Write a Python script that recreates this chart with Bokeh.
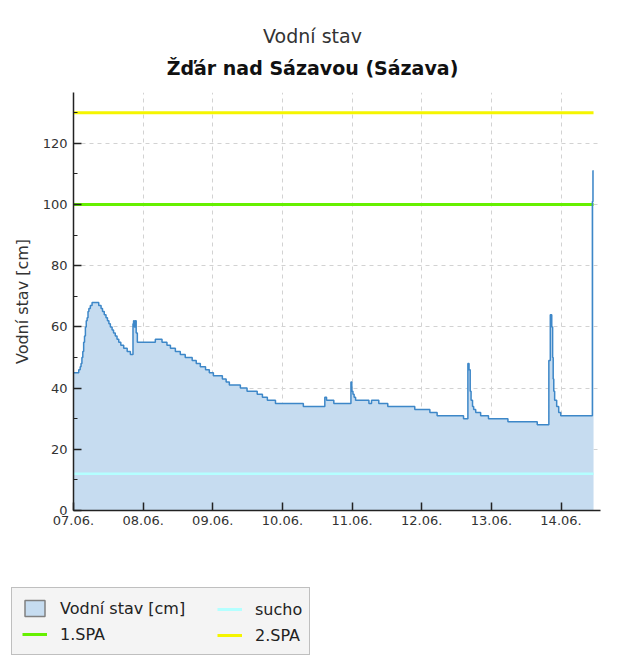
from bokeh.plotting import figure
from bokeh.layouts import column
from bokeh.models import Range1d, Label, Legend, LegendItem, FixedTicker, SingleIntervalTicker
from bokeh.embed import file_html
from bokeh.resources import INLINE

# ---- data (hours since 07.06. 00:00, water level in cm) ----
hours = [0, 1.8, 2.3, 2.6, 2.9, 3.2, 3.5, 3.8, 4.1, 4.4, 4.7, 5.0, 5.3, 5.8, 6.4,
         8.7, 9.5, 10.0, 10.6, 11.2, 11.7, 12.2, 12.7, 13.3, 13.8, 14.4, 15.0, 15.6,
         16.3, 17.3, 18.5, 19.6, 20.5, 20.7, 20.95, 21.3, 21.6, 22.0,
         28.2, 30.5, 32.2, 33.4, 35.1, 36.8, 38.5, 40.9, 42.3, 43.7, 45.5, 46.8,
         48.2, 51.3, 52.6, 53.7, 57.5, 59.8, 63.3, 65.1, 66.8, 69.6, 79.2,
         86.6, 87.2, 89.7, 95.6, 95.9, 96.3, 96.7, 97.2, 101.8, 102.7, 105.2,
         108.3, 117.6, 122.8, 125.3, 134.4, 135.9, 136.3, 136.7, 137.0, 137.5,
         137.9, 138.6, 140.3, 143.0, 149.7, 159.8, 163.8, 164.3, 164.8, 165.1,
         165.3, 165.5, 165.8, 166.5, 167.2, 167.9, 178.8, 179.0, 179.2]
level = [45, 46, 47, 48, 50, 52, 55, 57, 60, 62, 63, 65, 66, 67, 68,
         67, 66, 65, 64, 63, 62, 61, 60, 59, 58, 57, 56, 55,
         54, 53, 52, 51, 61, 62, 60, 62, 58, 55,
         56, 55, 54, 53, 52, 51, 50, 49, 48, 47, 46, 45,
         44, 43, 42, 41, 40, 39, 38, 37, 36, 35, 34,
         37, 36, 35, 42, 39, 38, 37, 36, 35, 36, 35,
         34, 33, 32, 31, 30, 48, 46, 39, 36, 34,
         33, 32, 31, 30, 29, 28, 49, 64, 60, 50,
         43, 39, 36, 34, 32, 31, 101, 111, 111]

day_ticks = [0, 24, 48, 72, 96, 120, 144, 168]
day_labels = ["07.06.", "08.06.", "09.06.", "10.06.", "11.06.", "12.06.", "13.06.", "14.06."]

spa1_level = 100
spa2_level = 130
sucho_level = 12

title_main = "Vodní stav"
title_sub = "Žďár nad Sázavou (Sázava)"
y_label = "Vodní stav [cm]"
legend_labels = ["Vodní stav [cm]", "sucho", "1.SPA", "2.SPA"]

FONT = "DejaVu Sans"
AREA_FILL = "#c6dcf0"
LINE_BLUE = "#3d87c8"
SUCHO_C = "#b4ffff"
SPA1_C = "#66f000"
SPA2_C = "#f5f500"

W = 630
NAN = float("nan")


def blank(h):
    f = figure(width=W, height=h, output_backend="svg", toolbar_location=None,
               x_range=Range1d(0, W), y_range=Range1d(0, h),
               x_axis_type=None, y_axis_type=None,
               min_border_left=0, min_border_right=0, min_border_top=0, min_border_bottom=0)
    f.outline_line_color = None
    f.background_fill_color = "white"
    f.border_fill_color = "white"
    f.frame_align = False
    return f


# ---- titles ----
p_top = blank(92)
p_top.add_layout(Label(x=312, y=57, text=title_main,
                       text_font=FONT, text_font_size="19px", text_color="#333333",
                       text_align="center", text_baseline="middle"))
p_top.add_layout(Label(x=312, y=25, text=title_sub,
                       text_font=FONT, text_font_size="19px", text_font_style="bold",
                       text_color="#111111", text_align="center", text_baseline="middle"))

# ---- main chart ----
p = figure(width=W, height=450, output_backend="svg", toolbar_location=None,
           x_range=Range1d(0, 181.6), y_range=Range1d(0, 136.6),
           min_border_left=73, min_border_right=30, min_border_top=0, min_border_bottom=32)
p.outline_line_color = None
p.background_fill_color = "white"
p.border_fill_color = "white"
p.frame_align = False

p.xaxis.ticker = FixedTicker(ticks=day_ticks)
p.xaxis.major_label_overrides = {t: l for t, l in zip(day_ticks, day_labels)}
p.yaxis.ticker = SingleIntervalTicker(interval=20, num_minor_ticks=2)
for ax in (p.xaxis, p.yaxis):
    ax.axis_line_color = "#222222"
    ax.axis_line_width = 1.5
    ax.major_tick_line_color = "#222222"
    ax.major_tick_line_width = 1.5
    ax.major_tick_in = 8
    ax.major_tick_out = 0
    ax.minor_tick_in = 4
    ax.minor_tick_out = 0
    ax.minor_tick_line_color = "#222222"
    ax.major_label_text_font = FONT
    ax.major_label_text_font_size = "13px"
    ax.major_label_text_color = "#333333"
p.xaxis.minor_tick_line_color = None
p.xaxis.major_label_standoff = 5
p.yaxis.major_label_standoff = 6
p.yaxis.axis_label = y_label
p.yaxis.axis_label_text_font = FONT
p.yaxis.axis_label_text_font_size = "16px"
p.yaxis.axis_label_text_font_style = "normal"
p.yaxis.axis_label_text_color = "#333333"
p.yaxis.axis_label_standoff = 8

for g in (p.xgrid, p.ygrid):
    g.grid_line_color = "#d2d2d2"
    g.grid_line_dash = "4 4"
    g.grid_line_width = 1

p.varea_step(x=hours, y1=[0] * len(hours), y2=level, step_mode="after",
             fill_color=AREA_FILL, fill_alpha=1.0)
t_span = [hours[0], hours[-1]]
p.line(t_span, [sucho_level] * 2, line_color=SUCHO_C, line_width=2.5)
p.line(t_span, [spa1_level] * 2, line_color=SPA1_C, line_width=3)
p.line(t_span, [spa2_level] * 2, line_color=SPA2_C, line_width=3)
p.step(x=hours, y=level, mode="after", line_color=LINE_BLUE, line_width=1.5)

# ---- legend (separate strip; key renderers hold no visible data) ----
p_leg = blank(122)
k_area = p_leg.quad(left=[NAN], right=[NAN], top=[NAN], bottom=[NAN], fill_color=AREA_FILL,
                    line_color="#808080", line_width=1.5)
k_sucho = p_leg.line(x=[NAN], y=[NAN], line_color=SUCHO_C, line_width=3)
k_spa1 = p_leg.line(x=[NAN], y=[NAN], line_color=SPA1_C, line_width=3)
k_spa2 = p_leg.line(x=[NAN], y=[NAN], line_color=SPA2_C, line_width=3)

common = dict(orientation="vertical", label_text_font=FONT, label_text_font_size="16px",
              label_text_color="#222222", glyph_width=25, glyph_height=20,
              label_standoff=13, spacing=6, padding=10, margin=0, label_height=20)
leg_a = Legend(items=[LegendItem(label=legend_labels[0], renderers=[k_area]),
                      LegendItem(label=legend_labels[2], renderers=[k_spa1])],
               location=(11, 9), background_fill_color="#f4f4f4", background_fill_alpha=1.0,
               border_line_color="#8a8a8a", border_line_width=1.5, label_width=239, **common)
leg_b = Legend(items=[LegendItem(label=legend_labels[1], renderers=[k_sucho]),
                      LegendItem(label=legend_labels[3], renderers=[k_spa2])],
               location=(217, 19), background_fill_alpha=0.0, border_line_color=None,
               **common)
p_leg.add_layout(leg_a, "center")
p_leg.add_layout(leg_b, "center")

layout = column(p_top, p, p_leg, spacing=0)
open("out.html", "w").write(file_html(layout, INLINE))
